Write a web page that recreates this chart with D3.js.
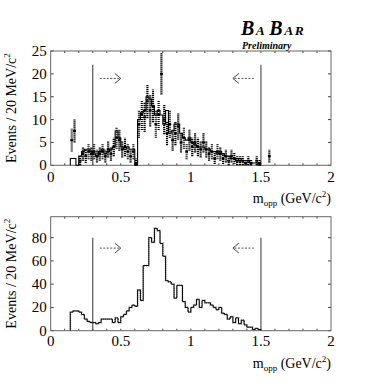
<!DOCTYPE html>
<html>
<head>
<meta charset="utf-8">
<script src="https://cdn.jsdelivr.net/npm/d3@7"></script>
<style>
  body { margin: 0; background: #fff; }
  svg { display: block; }
</style>
</head>
<body>
<div id="chart"></div>
<script>
// bin lower edges (20 MeV) for the histograms, 0.14 .. 1.48
const binEdges = [0.14,0.16,0.18,0.20,0.22,0.24,0.26,0.28,0.30,0.32,0.34,0.36,0.38,0.40,0.42,0.44,0.46,0.48,
  0.50,0.52,0.54,0.56,0.58,0.60,0.62,0.64,0.66,0.68,0.70,0.72,0.74,0.76,0.78,0.80,0.82,0.84,0.86,0.88,
  0.90,0.92,0.94,0.96,0.98,1.00,1.02,1.04,1.06,1.08,1.10,1.12,1.14,1.16,1.18,1.20,1.22,1.24,1.26,1.28,
  1.30,1.32,1.34,1.36,1.38,1.40,1.42,1.44,1.46,1.48]

// upper panel: simulated histogram (solid)
const topHist = [1.5,1.5,0,2,3,3.5,3.5,3,2.5,2,3,3.5,2.5,3,3.5,4,7.5,6,
  4,3.5,4,3.5,3.5,0,10,11.5,12,15,14.5,13,11,12,11,9,12,7,7.5,9,
  9,7,6,5.5,6,5,4.5,4,4,4,3.5,3.5,3,3,2.5,3,2.5,2,2,1.5,
  1.5,1,1.5,1,1,1,0.5,0.5,0.5,0]

// upper panel: data points with errors
const topMass = [0.15,0.17,0.21,0.23,0.25,0.27,0.29,0.31,0.33,0.35,0.37,0.39,0.41,0.43,0.45,0.47,0.49,
  0.51,0.53,0.55,0.57,0.59,0.61,0.63,0.65,0.67,0.69,0.71,0.73,0.75,0.77,0.79,0.81,0.83,0.85,0.87,0.89,
  0.91,0.93,0.95,0.97,0.99,1.01,1.03,1.05,1.07,1.09,1.11,1.13,1.15,1.17,1.19,1.21,1.23,1.25,1.27,1.29,
  1.31,1.33,1.35,1.37,1.39,1.41,1.43,1.47,1.49,1.56]
const topData = [5.5,7.5,1,2.5,2,3,2.5,3,2,2.5,3,2,3.5,2.5,4,6,5.5,
  3.5,4,3,2,3,0.5,9,11,10.5,14,12,13,9,11,20,10,7,9,5.5,7,
  8.5,5,6,3,5.5,4,5,4,3.5,5,3.5,2.5,3,1.5,3,2.5,1.5,2,1,2,
  1.5,1,1,1,0.5,1,0.5,1,0.5,2]
const topErr = [2.5,2.5,1,1.5,1.5,1.7,1.5,1.7,1.4,1.5,1.7,1.4,1.8,1.5,2,2.4,2.3,
  1.8,2,1.7,1.4,1.7,1,3,3.3,3.2,3.7,3.5,3.6,3,3.3,4.5,3.2,2.6,3,2.3,2.6,
  2.9,2.2,2.4,1.7,2.3,2,2.2,2,1.8,2.2,1.8,1.5,1.7,1.2,1.7,1.5,1.2,1.4,1,1.4,
  1.2,1,1,1,0.8,1,0.7,1,0.8,1.4]

// lower panel histogram
const botHist = [16,17,17,16,14,10,8,7,7,6,7,10,10,10,10,7,11,7,
  12,14,17,20,22,21,35,26,56,56,80,76,88,86,75,64,43,42,40,28,
  39,39,25,20,16,20,22,27,20,26,24,24,22,20,18,20,15,14,10,12,
  7,11,6,9,5,3,3,1,2,1]

const xTicks = [0, 0.5, 1, 1.5, 2]
const xTickLabels = ["0", "0.5", "1", "1.5", "2"]
const topYTicks = [0, 5, 10, 15, 20, 25]
const botYTicks = [0, 20, 40, 60, 80]
const cuts = [0.3, 1.5]

const serif = "'Liberation Serif', 'Times New Roman', 'DejaVu Serif', serif"
const W = 382, H = 382
const svg = d3.select("#chart").append("svg").attr("width", W).attr("height", H)
  .attr("font-family", serif)

const x = d3.scaleLinear().domain([0, 2]).range([50.7, 331])
const yTop = d3.scaleLinear().domain([0, 25]).range([165.3, 51])
const yBot = d3.scaleLinear().domain([0, 98]).range([330.7, 216.7])

const step = d3.line().curve(d3.curveStepAfter)

function histPath(vals, y) {
  let pts = vals.map((v, i) => [x(binEdges[i]), y(v)])
  pts.unshift([x(binEdges[0]), y(0)])
  let last = binEdges[binEdges.length - 1] + 0.02
  pts.push([x(last), y(vals[vals.length - 1])])
  pts.push([x(last), y(0)])
  return step(pts)
}

function panel(y, yTicks, cutTop, arrowVal, labelY, titleY) {
  const g = svg.append("g")
  const [x0, x1] = x.range(), [y0, y1] = y.range()

  // small minor ticks around the frame
  const minorX = d3.range(0.1, 2, 0.1)
  g.selectAll(".mxb").data(minorX).enter().append("line")
    .attr("x1", d => x(d)).attr("x2", d => x(d)).attr("y1", y0).attr("y2", y0 - 2)
    .attr("stroke", "#444").attr("stroke-width", 1)
  g.selectAll(".mxt").data(minorX).enter().append("line")
    .attr("x1", d => x(d)).attr("x2", d => x(d)).attr("y1", y1).attr("y2", y1 + 2)
    .attr("stroke", "#444").attr("stroke-width", 1)
  g.selectAll(".my").data(yTicks).enter().append("line")
    .attr("x1", x0).attr("x2", x0 + 3).attr("y1", d => y(d)).attr("y2", d => y(d))
    .attr("stroke", "#444")
  g.selectAll(".myr").data(yTicks).enter().append("line")
    .attr("x1", x1).attr("x2", x1 - 3).attr("y1", d => y(d)).attr("y2", d => y(d))
    .attr("stroke", "#444")

  // frame
  g.append("rect").attr("x", x0).attr("y", y1).attr("width", x1 - x0).attr("height", y0 - y1)
    .attr("fill", "none").attr("stroke", "#666").attr("stroke-width", 1)

  // tick labels
  g.selectAll(".yl").data(yTicks).enter().append("text")
    .attr("x", x0 - 4).attr("y", d => y(d) + 5).attr("text-anchor", "end")
    .attr("font-size", 15).text(d => d)
  g.selectAll(".xl").data(xTicks).enter().append("text")
    .attr("x", d => x(d)).attr("y", labelY).attr("text-anchor", "middle")
    .attr("font-size", 15).text((d, i) => xTickLabels[i])

  // x title
  const t = g.append("text").attr("x", x1).attr("y", titleY).attr("text-anchor", "end").attr("font-size", 14)
  t.append("tspan").text("m")
  t.append("tspan").attr("font-size", 9).attr("dy", 3).text("opp")
  t.append("tspan").attr("dy", -3).text(" (GeV/c")
  t.append("tspan").attr("font-size", 9).attr("dy", -6).text("2")
  t.append("tspan").attr("dy", 6).text(")")

  // y title
  const cy = (y0 + y1) / 2
  const yt = g.append("text").attr("transform", `translate(16,${cy}) rotate(-90)`)
    .attr("text-anchor", "middle").attr("font-size", 14)
  yt.append("tspan").text("Events / 20 MeV/c")
  yt.append("tspan").attr("font-size", 9).attr("dy", -6).text("2")

  // cut lines
  g.selectAll(".cut").data(cuts).enter().append("line")
    .attr("x1", d => x(d)).attr("x2", d => x(d)).attr("y1", y0).attr("y2", y(cutTop))
    .attr("stroke", "#555").attr("stroke-width", 1.2)

  // arrows
  const ay = y(arrowVal)
  const arrows = [[0.35, 0.5], [1.45, 1.3]]
  arrows.forEach(([a, b]) => {
    g.append("line").attr("x1", x(a)).attr("x2", x(b)).attr("y1", ay).attr("y2", ay)
      .attr("stroke", "#555").attr("stroke-dasharray", "2,1.5")
    const dir = b > a ? -1 : 1
    g.append("path")
      .attr("d", `M${x(b) + dir * 6},${ay - 5} L${x(b)},${ay} L${x(b) + dir * 6},${ay + 5}`)
      .attr("fill", "none").attr("stroke", "#444").attr("stroke-width", 1)
  })
  return g
}

// upper panel
const gt = panel(yTop, topYTicks, 22, 19, 182, 203)
gt.append("path").attr("d", histPath(topHist, yTop))
  .attr("fill", "none").attr("stroke", "#000").attr("stroke-width", 1.1)
gt.selectAll(".err").data(topMass).enter().append("line")
  .attr("x1", d => x(d)).attr("x2", d => x(d))
  .attr("y1", (d, i) => yTop(Math.max(0, topData[i] - topErr[i])))
  .attr("y2", (d, i) => yTop(topData[i] + topErr[i]))
  .attr("stroke", "#000").attr("stroke-width", 2.2).attr("stroke-dasharray", "1.2,0.8")
gt.selectAll(".pt").data(topMass).enter().append("line")
  .attr("x1", d => x(d) - 1.4).attr("x2", d => x(d) + 1.4)
  .attr("y1", (d, i) => yTop(topData[i])).attr("y2", (d, i) => yTop(topData[i]))
  .attr("stroke", "#000").attr("stroke-width", 2)

// lower panel
const gb = panel(yBot, botYTicks, 80, 71, 346, 368)
gb.append("path").attr("d", histPath(botHist, yBot))
  .attr("fill", "none").attr("stroke", "#999").attr("stroke-width", 1.8).attr("stroke-dasharray", "1,1")
gb.append("path").attr("d", histPath(botHist, yBot))
  .attr("fill", "none").attr("stroke", "#000").attr("stroke-width", 1)

// BaBar logo
const logo = svg.append("text").attr("x", 241).attr("y", 34.5)
  .attr("font-weight", "bold").attr("font-style", "italic").attr("letter-spacing", 1.5)
logo.append("tspan").attr("font-size", 20).text("B")
logo.append("tspan").attr("font-size", 13.5).text("A")
logo.append("tspan").attr("font-size", 20).attr("dx", 3).text("B")
logo.append("tspan").attr("font-size", 13.5).text("AR")
svg.append("text").attr("x", 242).attr("y", 49)
  .attr("font-weight", "bold").attr("font-style", "italic").attr("font-size", 10).text("Preliminary")
</script>
</body>
</html>
